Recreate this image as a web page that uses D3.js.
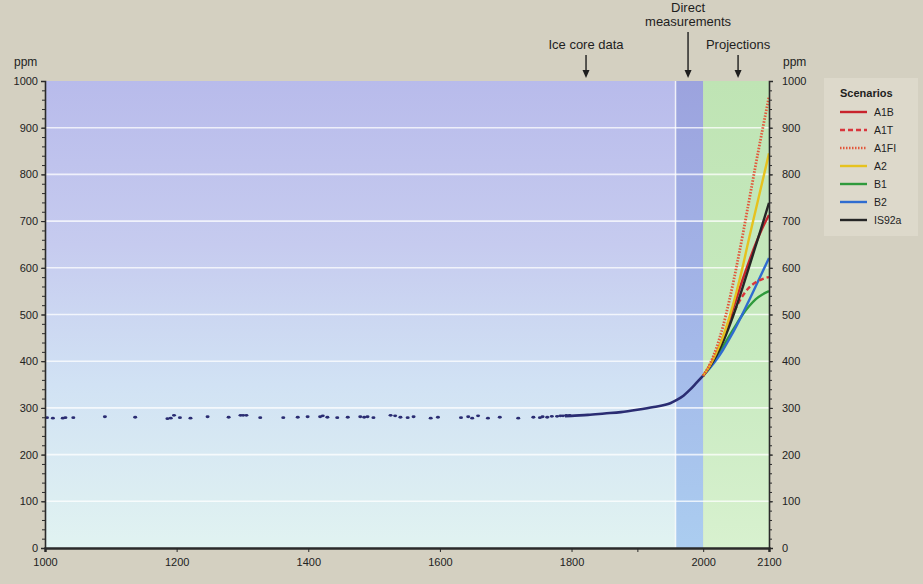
<!DOCTYPE html>
<html>
<head>
<meta charset="utf-8">
<script src="https://cdn.jsdelivr.net/npm/d3@7"></script>
<style>
    body { margin: 0; background: #d4d0c1; }
    svg { display: block; font-family: "Liberation Sans", Arial, sans-serif; }
    .axis text { font-size: 11px; fill: #222; }
    .axis path, .axis line { stroke: #2a2a2a; }
</style>
</head>
<body>
<svg id="chart" width="923" height="584"></svg>
<script>
// ice core samples (ppm)
const iceYears = [1003, 1012, 1027, 1031, 1043, 1091, 1137, 1186, 1191, 1196, 1205, 1221, 1247, 1279, 1297, 1301, 1306, 1327, 1362, 1384, 1399, 1418, 1422, 1429, 1444, 1460, 1479, 1485, 1490, 1499, 1525, 1532, 1540, 1551, 1560, 1586, 1597, 1632, 1643, 1649, 1658, 1673, 1691, 1719, 1742, 1752, 1756, 1763, 1770, 1778, 1783, 1787, 1792, 1797]
const iceValues = [279, 278, 278, 279, 279, 281, 280, 277, 278, 284, 279, 278, 281, 280, 284, 284, 284, 279, 279, 280, 281, 281, 283, 280, 279, 280, 281, 280, 281, 279, 284, 283, 280, 279, 281, 278, 280, 279, 281, 278, 283, 278, 280, 278, 280, 279, 281, 280, 282, 282, 283, 283, 284, 284]

// smoothed record up to 2000
const recordYears = [1790, 1800, 1825, 1850, 1875, 1900, 1925, 1950, 1960, 1970, 1980, 1990, 2000]
const recordValues = [282, 283, 285, 288, 291, 296, 302, 310, 317, 326, 339, 354, 369]

// projections
const projectionYears = [2000, 2010, 2020, 2030, 2040, 2050, 2060, 2070, 2080, 2090, 2100]
const scenarioNames = ["A1B", "A1T", "A1FI", "A2", "B1", "B2", "IS92a"]
const a1b = [369, 390, 417, 450, 490, 532, 575, 615, 652, 685, 713]
const a1t = [369, 391, 418, 450, 484, 515, 540, 558, 569, 576, 580]
const a1fi = [369, 393, 428, 474, 532, 598, 670, 746, 822, 895, 966]
const a2 = [369, 390, 418, 452, 495, 545, 602, 665, 725, 785, 845]
const b1 = [369, 387, 408, 431, 455, 478, 500, 518, 533, 543, 550]
const b2 = [369, 385, 403, 424, 448, 474, 502, 531, 561, 591, 621]
const is92a = [369, 388, 412, 441, 476, 515, 558, 603, 648, 693, 739]

// periods shaded in the background
const periodNames = ["Ice core data", "Direct measurements", "Projections"]
const periodStarts = [1000, 1958, 2000]
const periodEnds = [1958, 2000, 2100]
const periodArrowYears = [1822, 1977, 2053]

const ppmTicks = [0, 100, 200, 300, 400, 500, 600, 700, 800, 900, 1000]
const yearTicks = [1000, 1200, 1400, 1600, 1800, 1900, 2000, 2100]
const yearLabels = [1000, 1200, 1400, 1600, 1800, 2000, 2100]


let svg = d3.select("#chart"),
    plotLeft = 45, plotRight = 769, plotTop = 81, plotBottom = 548,
    x = d3.scaleLinear().domain([1000, 2100]).range([plotLeft, plotRight]),
    y = d3.scaleLinear().domain([0, 1000]).range([plotBottom, plotTop]),
    defs = svg.append("defs"),
    fmt = d3.format("d")


function gradient(id, stops) {
    let g = defs.append("linearGradient")
        .attr("id", id)
        .attr("x1", 0).attr("y1", 0)
        .attr("x2", 0).attr("y2", 1)

    stops.forEach(function(s) {
        g.append("stop").attr("offset", s[0]).attr("stop-color", s[1])
    })
}

gradient("bgIce", [[0, "#b8bbeb"], [0.35, "#c6cbef"], [0.65, "#d1e2f4"], [1, "#e1f3f1"]])
gradient("bgDirect", [[0, "#9ca3de"], [0.5, "#a3b6e8"], [1, "#abcdf0"]])
gradient("bgProj", [[0, "#bfe4b4"], [0.6, "#c8eac0"], [1, "#d8f1cf"]])

let fills = ["url(#bgIce)", "url(#bgDirect)", "url(#bgProj)"]

periodStarts.forEach(function(start, i) {
    svg.append("rect")
        .attr("x", x(start))
        .attr("y", y(1000))
        .attr("width", x(periodEnds[i]) - x(start))
        .attr("height", y(0) - y(1000))
        .attr("fill", fills[i])
})

// pale line at the start of the direct measurement band
svg.append("line")
    .attr("x1", x(periodStarts[1])).attr("x2", x(periodStarts[1]))
    .attr("y1", y(1000)).attr("y2", y(0))
    .attr("stroke", "#ffffff").attr("stroke-opacity", 0.8).attr("stroke-width", 1.5)

// grid lines
svg.append("g")
    .selectAll("line")
    .data(ppmTicks.filter(d => d > 0 && d < 1000))
    .join("line")
    .attr("x1", plotLeft).attr("x2", plotRight)
    .attr("y1", d => y(d)).attr("y2", d => y(d))
    .attr("stroke", "#ffffff")
    .attr("stroke-opacity", 0.75)
    .attr("stroke-width", 1.6)


// ice core dots
svg.append("g")
    .selectAll("ellipse")
    .data(iceYears)
    .join("ellipse")
    .attr("cx", d => x(d))
    .attr("cy", (d, i) => y(iceValues[i]))
    .attr("rx", 2)
    .attr("ry", 1.4)
    .attr("fill", "#2a2c72")

let line = d3.line().curve(d3.curveMonotoneX)

svg.append("path")
    .attr("d", line(recordYears.map((d, i) => [x(d), y(recordValues[i])])))
    .attr("fill", "none")
    .attr("stroke", "#2a2c72")
    .attr("stroke-width", 2.6)


// scenarios
let scenarioValues = [a1b, a1t, a1fi, a2, b1, b2, is92a],
    scenarioColors = ["#c8232c", "#d9363c", "#e2573a", "#e6c21e", "#2f9a3c", "#2f6cd0", "#262626"],
    scenarioDash = [null, "5,3", "1.5,1.5", null, null, null, null],
    drawOrder = [4, 5, 1, 0, 6, 3, 2]

drawOrder.forEach(function(i) {
    svg.append("path")
        .attr("d", line(projectionYears.map((d, j) => [x(d), y(scenarioValues[i][j])])))
        .attr("fill", "none")
        .attr("stroke", scenarioColors[i])
        .attr("stroke-width", i === 2 ? 2.8 : 2.4)
        .attr("stroke-dasharray", scenarioDash[i])
})


// axes
let leftAxis = svg.append("g")
    .attr("class", "axis")
    .attr("transform", `translate(${plotLeft},0)`)
    .call(d3.axisLeft(y).tickValues(ppmTicks).tickSize(4).tickPadding(3).tickFormat(fmt))

leftAxis.append("g")
    .call(d3.axisLeft(y).tickValues(d3.range(0, 1001, 20)).tickSize(3).tickFormat(""))
    .select(".domain").remove()

let rightAxis = svg.append("g")
    .attr("class", "axis")
    .attr("transform", `translate(${plotRight},0)`)
    .call(d3.axisRight(y).tickValues(ppmTicks).tickSize(4).tickPadding(9).tickFormat(fmt))

rightAxis.append("g")
    .call(d3.axisRight(y).tickValues(d3.range(0, 1001, 20)).tickSize(3).tickFormat(""))
    .select(".domain").remove()

svg.selectAll(".axis .domain").attr("stroke-width", 1.6)

svg.append("g")
    .attr("class", "axis")
    .attr("transform", `translate(0,${plotBottom})`)
    .call(d3.axisBottom(x).tickValues(yearTicks).tickSize(4).tickPadding(6)
        .tickFormat(d => yearLabels.includes(d) ? fmt(d) : ""))
    .call(g => g.select(".domain").attr("stroke-width", 2.5).attr("stroke", "#555"))

svg.append("text")
    .attr("x", 14).attr("y", 66)
    .attr("font-size", 12).attr("fill", "#222")
    .text("ppm")

svg.append("text")
    .attr("x", 783).attr("y", 66)
    .attr("font-size", 12).attr("fill", "#222")
    .text("ppm")


// period labels with arrows
let labelTop = [49, 26, 49],
    arrowTip = 78

periodNames.forEach(function(name, i) {
    let ax = x(periodArrowYears[i]),
        words = i === 1 ? ["Direct", "measurements"] : [name]

    words.forEach(function(w, k) {
        svg.append("text")
            .attr("x", ax)
            .attr("y", labelTop[i] - (words.length - 1 - k) * 14)
            .attr("text-anchor", "middle")
            .attr("font-size", 13)
            .attr("fill", "#1e1e1e")
            .text(w)
    })

    svg.append("line")
        .attr("x1", ax).attr("x2", ax)
        .attr("y1", labelTop[i] + 6).attr("y2", arrowTip - 5)
        .attr("stroke", "#1e1e1e")
        .attr("stroke-width", 1.4)

    svg.append("path")
        .attr("d", `M${ax - 3.5},${arrowTip - 8} L${ax + 3.5},${arrowTip - 8} L${ax},${arrowTip} Z`)
        .attr("fill", "#1e1e1e")
})


// legend
let legend = svg.append("g").attr("transform", "translate(824,78)")

legend.append("rect")
    .attr("width", 94).attr("height", 158)
    .attr("fill", "#ddd9cb")

legend.append("text")
    .attr("x", 16).attr("y", 19)
    .attr("font-size", 11)
    .attr("font-weight", "bold")
    .attr("fill", "#1e1e1e")
    .text("Scenarios")

scenarioNames.forEach(function(name, i) {
    let ly = 34 + i * 18

    legend.append("line")
        .attr("x1", 16).attr("x2", 43)
        .attr("y1", ly).attr("y2", ly)
        .attr("stroke", scenarioColors[i])
        .attr("stroke-width", 2.4)
        .attr("stroke-dasharray", scenarioDash[i])

    legend.append("text")
        .attr("x", 50).attr("y", ly + 4)
        .attr("font-size", 10.5)
        .attr("fill", "#1e1e1e")
        .text(name)
})
</script>
</body>
</html>
